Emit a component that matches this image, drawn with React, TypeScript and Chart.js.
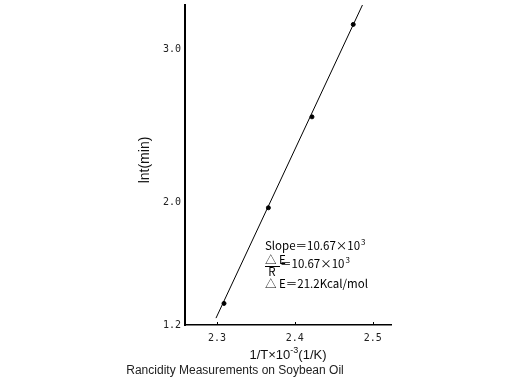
import React, { useEffect, useRef } from "react";
import { Chart, registerables } from "chart.js";

Chart.register(...registerables);

// Measured points: 1/T ×10^-3 (1/K) vs ln t (min)
const invT = [2.309, 2.366, 2.422, 2.475];
const lnt = [1.341, 1.966, 2.56, 3.164];
// Fitted regression line endpoints
const fitInvT = [2.2987, 2.4871];
const fitLnt = [1.245, 3.294];
// Tick labels
const xTicks = [2.3, 2.4, 2.5];
const yTicks = [1.2, 2.0, 3.0];

const xTitle = "1/T×10";
const xTitleSup = "-3";
const xTitleTail = "(1/K)";
const yTitle = "lnt(min)";
const caption = "Rancidity Measurements on Soybean Oil";

const annoFont = '11.5px "Noto Sans CJK JP", "DejaVu Sans", sans-serif';
const annoSup = '8px "Noto Sans CJK JP", "DejaVu Sans", sans-serif';

const decorPlugin = {
  id: "decor",
  afterDraw(chart: any) {
    const { ctx, chartArea, scales } = chart;
    const xs = scales.x;
    ctx.save();
    // inward tick marks on x axis
    ctx.strokeStyle = "#000";
    ctx.lineWidth = 1;
    xTicks.forEach((v) => {
      const px = Math.round(xs.getPixelForValue(v)) + 0.5;
      ctx.beginPath();
      ctx.moveTo(px, chartArea.bottom);
      ctx.lineTo(px, chartArea.bottom - 3);
      ctx.stroke();
    });

    ctx.fillStyle = "#111";
    // y title
    ctx.save();
    ctx.translate(145, 160);
    ctx.rotate(-Math.PI / 2);
    ctx.font = '14px "Liberation Sans", Arial, sans-serif';
    ctx.textAlign = "center";
    ctx.textBaseline = "middle";
    ctx.fillText(yTitle, 0, 0);
    ctx.restore();

    // x title with superscript
    const cx = (chartArea.left + chartArea.right) / 2;
    ctx.font = '13px "Liberation Sans", Arial, sans-serif';
    const w1 = ctx.measureText(xTitle).width;
    const w3 = ctx.measureText(xTitleTail).width;
    ctx.font = '9px "Liberation Sans", Arial, sans-serif';
    const w2 = ctx.measureText(xTitleSup).width;
    let sx = cx - (w1 + w2 + w3) / 2;
    ctx.textAlign = "left";
    ctx.textBaseline = "alphabetic";
    ctx.font = '13px "Liberation Sans", Arial, sans-serif';
    ctx.fillText(xTitle, sx, 359);
    sx += w1;
    ctx.font = '9px "Liberation Sans", Arial, sans-serif';
    ctx.fillText(xTitleSup, sx, 353);
    sx += w2;
    ctx.font = '13px "Liberation Sans", Arial, sans-serif';
    ctx.fillText(xTitleTail, sx, 359);

    // caption
    ctx.font = '12px "Liberation Sans", Arial, sans-serif';
    ctx.textAlign = "center";
    ctx.fillStyle = "#222";
    ctx.fillText(caption, 235, 374);

    // annotation
    ctx.fillStyle = "#000";
    ctx.textAlign = "left";
    ctx.font = annoFont;
    const ax = 265;
    const l1 = "Slope＝10.67×10";
    ctx.fillText(l1, ax, 250);
    let wl = ctx.measureText(l1).width;
    ctx.font = annoSup;
    ctx.fillText("3", ax + wl + 1, 245);

    ctx.font = annoFont;
    ctx.fillText("△ E", 265, 264);
    ctx.lineWidth = 1;
    ctx.beginPath();
    ctx.moveTo(265, 266.5);
    ctx.lineTo(280, 266.5);
    ctx.stroke();
    ctx.textAlign = "center";
    ctx.fillText("R", 272, 276);
    ctx.textAlign = "left";
    const l2 = "＝10.67×10";
    ctx.fillText(l2, 280, 268);
    wl = ctx.measureText(l2).width;
    ctx.font = annoSup;
    ctx.fillText("3", 280 + wl + 1, 263);

    ctx.font = annoFont;
    ctx.fillText("△ E＝21.2Kcal/mol", 265, 288);
    ctx.restore();
  },
};

export default function App() {
  const ref = useRef<HTMLCanvasElement | null>(null);
  useEffect(() => {
    if (!ref.current) return;
    const tickFont = { family: '"DejaVu Sans Mono", monospace', size: 10 };
    const chart = new Chart(ref.current, {
      type: "scatter",
      data: {
        datasets: [
          {
            label: "fit",
            data: fitInvT.map((x, i) => ({ x, y: fitLnt[i] })),
            showLine: true,
            borderColor: "#000",
            borderWidth: 1,
            pointRadius: 0,
            fill: false,
          },
          {
            label: "data",
            data: invT.map((x, i) => ({ x, y: lnt[i] })),
            backgroundColor: "#000",
            borderColor: "#000",
            pointRadius: 2,
            showLine: false,
          },
        ],
      },
      options: {
        responsive: false,
        animation: false,
        layout: { padding: { left: 0, right: 129, top: 2, bottom: 0 } },
        plugins: { legend: { display: false }, tooltip: { enabled: false } },
        scales: {
          x: {
            type: "linear",
            min: 2.2589,
            max: 2.5235,
            afterFit: (s: any) => {
              s.height = 55;
              s.paddingLeft = 0;
              s.paddingRight = 0;
            },
            afterBuildTicks: (s: any) => {
              s.ticks = xTicks.map((v) => ({ value: v }));
            },
            grid: { display: false, drawTicks: false },
            border: { display: true, color: "#000", width: 1.5 },
            ticks: {
              color: "#222",
              font: tickFont,
              padding: 7,
              maxRotation: 0,
              callback: (v: any) => Number(v).toFixed(1),
            },
          },
          y: {
            type: "linear",
            min: 1.2,
            max: 3.291,
            afterFit: (s: any) => {
              s.width = 185;
              s.paddingTop = 0;
              s.paddingBottom = 0;
            },
            afterBuildTicks: (s: any) => {
              s.ticks = yTicks.map((v) => ({ value: v }));
            },
            grid: { display: false, drawTicks: false },
            border: { display: true, color: "#000", width: 2 },
            ticks: {
              color: "#222",
              font: tickFont,
              padding: 4,
              callback: (v: any) => Number(v).toFixed(1),
            },
          },
        },
      },
      plugins: [decorPlugin],
    });
    return () => chart.destroy();
  }, []);
  return (
    <div style={{ position: "fixed", left: 0, top: 0, width: 520, height: 380, background: "#fff" }}>
      <canvas ref={ref} width={520} height={380} style={{ width: 520, height: 380 }} />
    </div>
  );
}
